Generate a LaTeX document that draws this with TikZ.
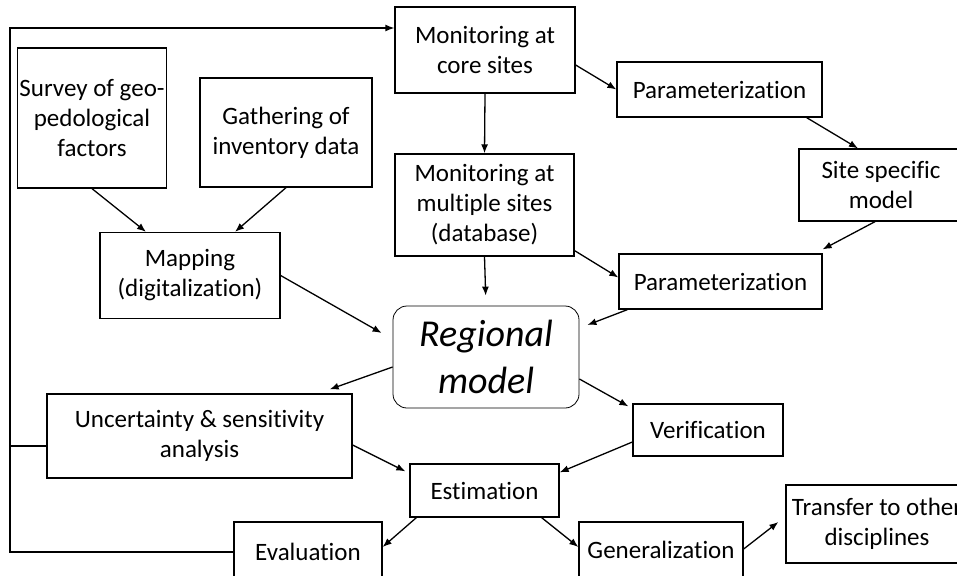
\documentclass[tikz,border=0pt]{standalone}
\usepackage{fontspec}
\setmainfont{Carlito}[Ligatures=NoCommon]
\usetikzlibrary{arrows.meta}

\begin{document}
\begin{tikzpicture}[x=1pt,y=-1pt,line width=1.3pt,>={Latex[length=9pt,width=7pt]},
    box/.style={draw,align=center,inner sep=2pt,font=\fontsize{25}{30}\selectfont},
    hub/.style={draw,line width=0.8pt,rounded corners=14pt,align=center,inner sep=2pt,
        font=\fontsize{38}{47}\selectfont\itshape}]
    \useasboundingbox (0,0) rectangle (957,575);
    \clip (0,0) rectangle (957,575);
    \node[box,minimum width=180pt,minimum height=86pt]  (core)     at (485,50)    {Monitoring at\\core sites};
    \node[box,minimum width=205pt,minimum height=55pt]  (param1)   at (719.5,89.5) {Parameterization};
    \node[box,minimum width=164pt,minimum height=72pt]  (site)     at (881,185)   {Site specific\\model};
    \node[box,minimum width=148pt,minimum height=140pt] (survey)   at (92,118)    {Survey of geo-\\pedological\\factors};
    \node[box,minimum width=172pt,minimum height=109pt] (gather)   at (286,132.5) {Gathering of\\inventory data};
    \node[box,minimum width=180pt,minimum height=86pt]  (mapping)  at (190,275.5) {Mapping\\(digitalization)};
    \node[box,minimum width=179pt,minimum height=102pt] (multi)    at (484.5,205) {Monitoring at\\multiple sites\\(database)};
    \node[box,minimum width=203pt,minimum height=55pt]  (param2)   at (720.5,281.5) {Parameterization};
    \node[hub,minimum width=186pt,minimum height=102pt] (regional) at (486,357)   {Regional\\model};
    \node[box,minimum width=305pt,minimum height=84pt]  (uncert)   at (199.5,436) {Uncertainty \& sensitivity\\analysis};
    \node[box,minimum width=150pt,minimum height=52pt]  (verif)    at (708,430)   {Verification};
    \node[box,minimum width=149pt,minimum height=53pt]  (estim)    at (484.5,490.5) {Estimation};
    \node[box,minimum width=148pt,minimum height=60pt]  (eval)     at (308,552)   {Evaluation};
    \node[box,minimum width=164pt,minimum height=56pt]  (general)  at (661,550)   {Generalization};
    \node[box,minimum width=182pt,minimum height=78pt]  (transfer) at (877,524)   {Transfer to other\\disciplines};
    \coordinate (fbtop) at (10,28);
    \coordinate (branch) at ([yshift=-10pt]uncert.west);
    \path[->]
    ([yshift=-15pt]core.east)            edge (param1.west)
    (core.south)                         edge (multi.north)
    ([xshift=-16pt]param1.south east)    edge ([xshift=-23pt]site.north)
    ([xshift=-6pt]site.south)            edge ([yshift=4pt]param2.north east)
    (survey.south)                       edge ([xshift=-44pt]mapping.north)
    (gather.south)                       edge ([xshift=45pt]mapping.north)
    ([yshift=6pt]multi.south east)       edge ([yshift=4pt]param2.west)
    (multi.south)                        edge [shorten >=10pt] (regional.north)
    (mapping.east)                       edge ([shift={(-11pt,24pt)}]regional.west)
    ([xshift=9pt]param2.south west)      edge ([shift={(8pt,32pt)}]regional.east)
    ([yshift=-10pt]regional.west)        edge ([shift={(-23pt,4pt)}]uncert.north east)
    ([yshift=-22pt]regional.east)        edge ([shift={(-4pt,-3pt)}]verif.north west)
    ([yshift=-9pt]uncert.east)           edge ([shift={(-4pt,-8pt)}]estim.north west)
    ([yshift=-12pt]verif.west)           edge ([yshift=-9pt]estim.north east)
    ([xshift=7pt]estim.south west)       edge ([yshift=5pt]eval.east)
    ([xshift=-18pt]estim.south east)     edge ([yshift=3pt]general.west)
    ([yshift=1pt]general.east)           edge ([shift={(-7pt,2pt)}]transfer.west)
    ;
    \draw[->] (eval.west) -| (fbtop) -- (fbtop -| core.west);
    \draw (branch) -- (branch -| fbtop);
\end{tikzpicture}
\end{document}
